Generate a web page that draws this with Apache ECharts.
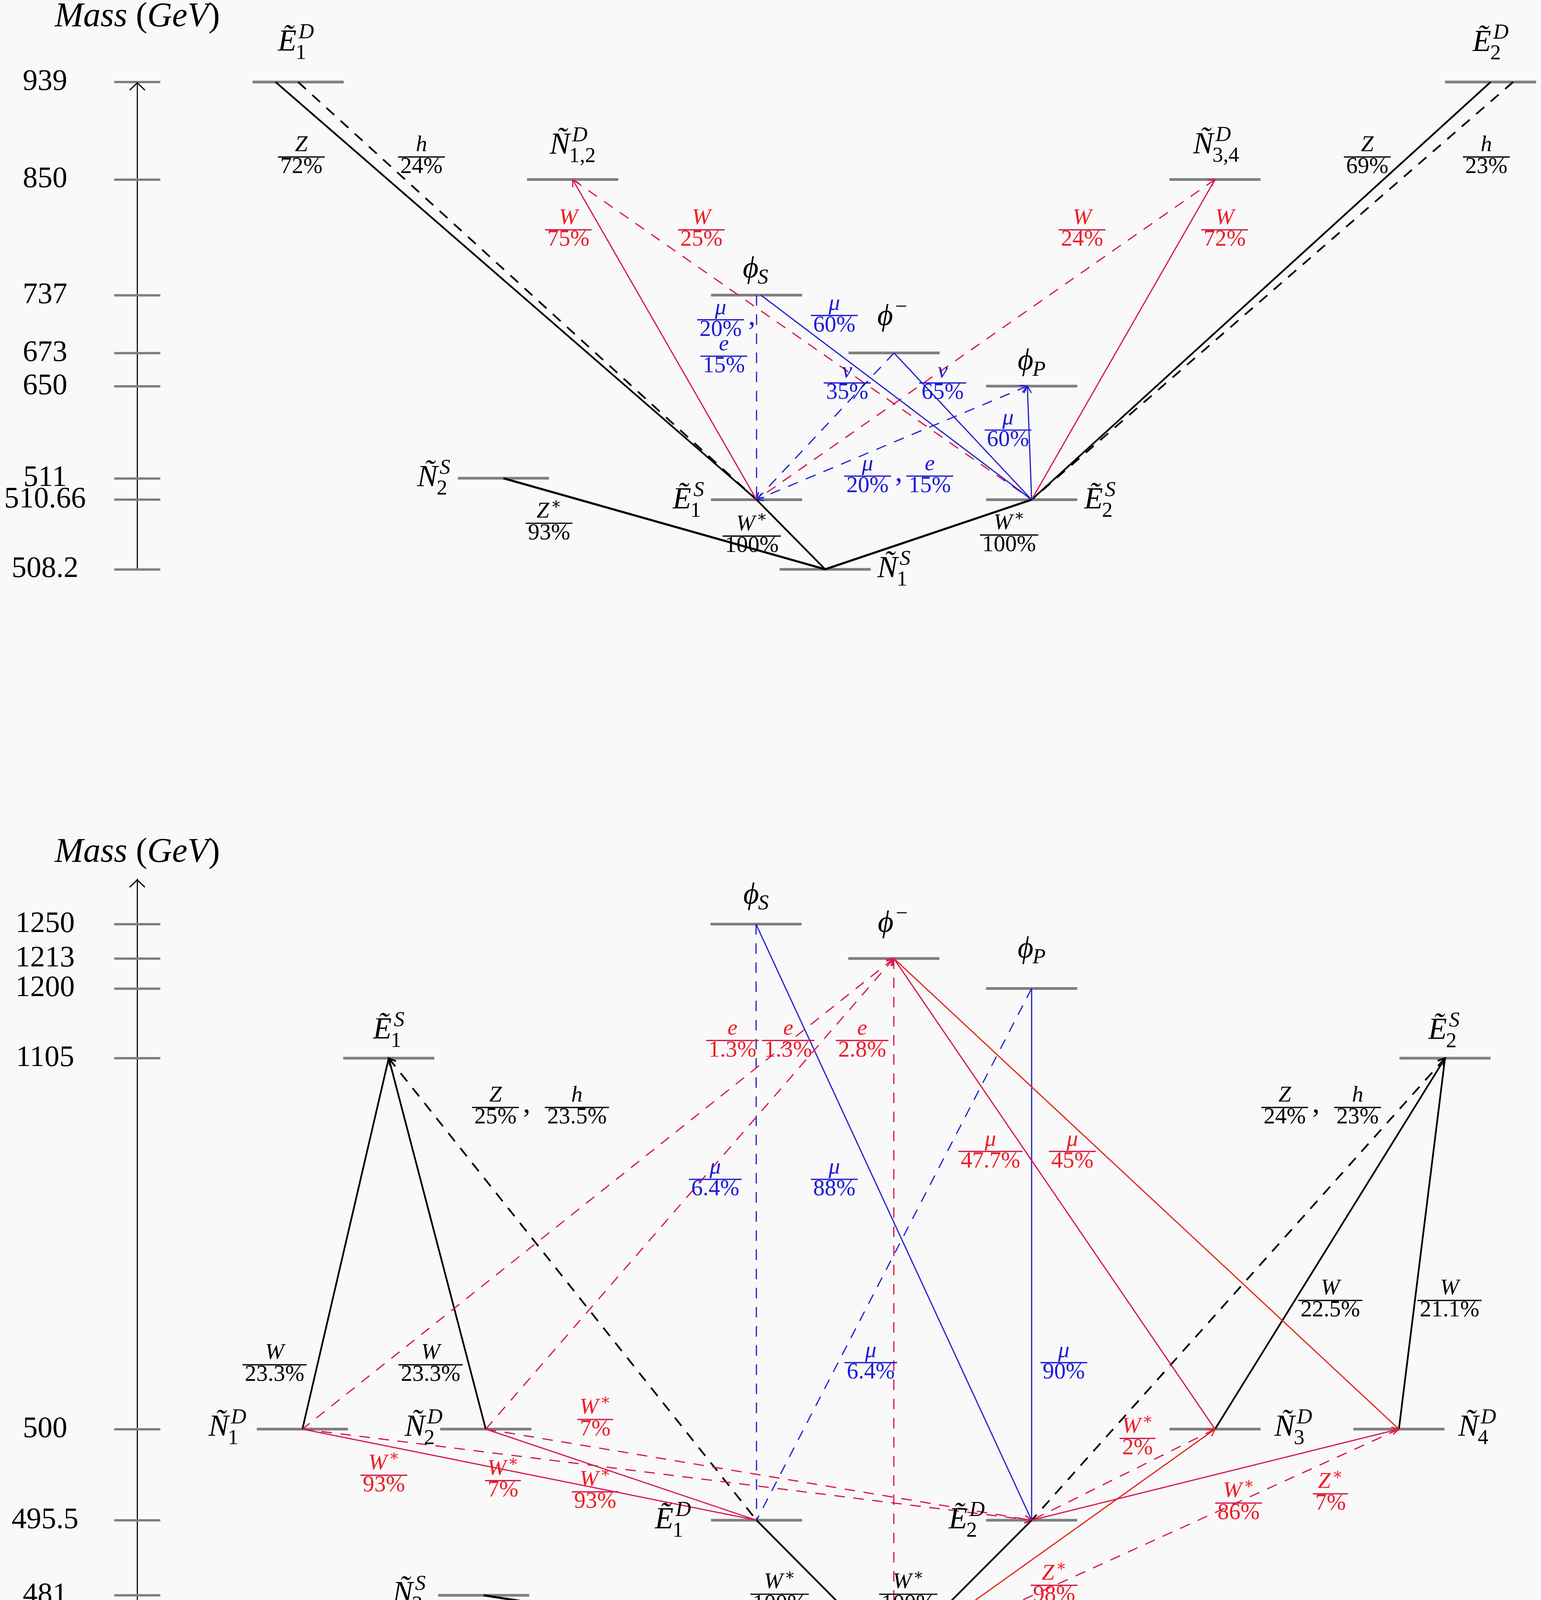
<!DOCTYPE html>
<html><head><meta charset="utf-8">
<script src="https://cdn.jsdelivr.net/npm/echarts@6/dist/echarts.min.js"></script>
<style>html,body{margin:0;padding:0;background:#f9f9f9}#c{width:3944px;height:4303px}</style>
</head><body><div id="c"></div><script>
// ===================== DATA =====================
const topTickMasses = [939, 850, 737, 673, 650, 511, 510.66, 508.2];
const topTickLabels = ['939', '850', '737', '673', '650', '511', '510.66', '508.2'];
const bottomTickMasses = [1250, 1213, 1200, 1105, 500, 495.5, 481, 479.75];
const bottomTickLabels = ['1250', '1213', '1200', '1105', '500', '495.5', '481', '479.75'];

const topStates = ['E1D', 'E2D', 'N12D', 'N34D', 'phiS', 'phiM', 'phiP', 'N2S', 'E1S', 'E2S', 'N1S'];
const topStateNames = ['Ẽ_1^D', 'Ẽ_2^D', 'Ñ_{1,2}^D', 'Ñ_{3,4}^D', 'ϕ_S', 'ϕ^−', 'ϕ_P', 'Ñ_2^S', 'Ẽ_1^S', 'Ẽ_2^S', 'Ñ_1^S'];
const topStateMasses = [939, 939, 850, 850, 737, 673, 650, 511, 510.66, 510.66, 508.2];

const topDecayFrom = ['E1D', 'E1D', 'E2D', 'E2D', 'N12D', 'N12D', 'N34D', 'N34D', 'phiS', 'phiS', 'phiM', 'phiM', 'phiP', 'phiP', 'N2S', 'E1S', 'E2S'];
const topDecayTo = ['E1S', 'E1S', 'E2S', 'E2S', 'E1S', 'E2S', 'E2S', 'E1S', 'E1S', 'E2S', 'E1S', 'E2S', 'E1S', 'E2S', 'N1S', 'N1S', 'N1S'];
const topDecayChannels = [['Z'], ['h'], ['Z'], ['h'], ['W'], ['W'], ['W'], ['W'], ['μ', 'e'], ['μ'], ['ν'], ['ν'], ['μ', 'e'], ['μ'], ['Z*'], ['W*'], ['W*']];
const topDecayBR = [[72], [24], [69], [23], [75], [25], [72], [24], [20, 15], [60], [35], [65], [20, 15], [60], [93], [100], [100]];

const bottomStates = ['phiS', 'phiM', 'phiP', 'E1S', 'E2S', 'N1D', 'N2D', 'N3D', 'N4D', 'E1D', 'E2D', 'N2S', 'N1S'];
const bottomStateNames = ['ϕ_S', 'ϕ^−', 'ϕ_P', 'Ẽ_1^S', 'Ẽ_2^S', 'Ñ_1^D', 'Ñ_2^D', 'Ñ_3^D', 'Ñ_4^D', 'Ẽ_1^D', 'Ẽ_2^D', 'Ñ_2^S', 'Ñ_1^S'];
const bottomStateMasses = [1250, 1213, 1200, 1105, 1105, 500, 500, 500, 500, 495.5, 495.5, 481, 479.16];

const bottomDecayFrom = ['E1S', 'E1S', 'E1S', 'E2S', 'E2S', 'E2S', 'phiS', 'phiS', 'phiP', 'phiP', 'phiM', 'phiM', 'phiM', 'phiM', 'phiM', 'N1D', 'N1D', 'N2D', 'N2D', 'N3D', 'N3D', 'N4D', 'N4D', 'E1D', 'E2D', 'N2S'];
const bottomDecayTo = ['N1D', 'N2D', 'E1D', 'N3D', 'N4D', 'E2D', 'E1D', 'E2D', 'E2D', 'E1D', 'N1D', 'N2D', 'N1S', 'N3D', 'N4D', 'E1D', 'E2D', 'E1D', 'E2D', 'N1S', 'E2D', 'E2D', 'N1S', 'N1S', 'N1S', 'N1S'];
const bottomDecayChannels = [['W'], ['W'], ['Z', 'h'], ['W'], ['W'], ['Z', 'h'], ['μ'], ['μ'], ['μ'], ['μ'], ['e'], ['e'], ['e'], ['μ'], ['μ'], ['W*'], ['W*'], ['W*'], ['W*'], ['Z*'], ['W*'], ['W*'], ['Z*'], ['W*'], ['W*'], ['Z*']];
const bottomDecayBR = [[23.3], [23.3], [25, 23.5], [22.5], [21.1], [24, 23], [6.4], [88], [90], [6.4], [1.3], [1.3], [2.8], [47.7], [45], [93], [7], [93], [7], [98], [2], [86], [7], [100], [100], [100]];

const axisTitle = ['Mass', '(', 'GeV', ')'];

// ===================== LAYOUT / STYLE =====================
const S = 3944 / 1437;          // layout unit -> px
const H0 = 4303 / S;
const FONT = '"Liberation Serif", "DejaVu Serif", serif';
const GRAY = '#808080';
const LINECOL = { k: '#000000', r: '#d8174a', o: '#e4261c', b: '#2323cc' };
const TEXTCOL = { k: '#000000', r: '#ee1c25', o: '#ee1c25', b: '#1b1bd6' };
const BARCOL = { k: '#000000', r: '#d41648', o: '#d41648', b: '#1b1bd6' };
const NAME_FS = 78, NUM_FS = 58, DEN_FS = 59, TICK_FS = 76, TITLE_FS = 88;

const panels = [
  {
    ticks: topTickMasses, tickLabels: topTickLabels,
    tickY: [76, 167, 275, 329, 360, 446, 466, 531], axisTop: 76, axisBottom: 531, nameGap: 166,
    states: topStates, names: topStateNames, masses: topStateMasses,
    levelX: [278, 1390, 534, 1133, 705.5, 833.7, 962, 469.5, 705.5, 962, 769.5],
    nameOff: [[-2, -27.3], [0, -27], [0, -22], [1, -22.5], [-1, -14.4], [-1.7, -24], [0, -13.5], [-65, 9.3], [-63.6, 10], [63.7, 10], [64, 9.4]],
    from: topDecayFrom, to: topDecayTo, ch: topDecayChannels, br: topDecayBR,
    style: [['k', 0], ['k', 1], ['k', 0], ['k', 1], ['r', 0], ['r', 1], ['r', 0], ['r', 1], ['b', 1], ['b', 0], ['b', 1], ['b', 0], ['b', 1], ['b', 0], ['k', 0, 5.4], ['k', 0], ['k', 0, 5.4]],
    fromDx: { 0: -21, 3: 21, 9: 4, 12: -4, 13: -4 },
    labelPos: [[[281, 146]], [[393, 146]], [[1275, 146]], [[1386, 146]], [[530, 214]], [[654, 214]], [[1142, 214]], [[1009, 214]],
      [[672, 298], [675, 332]], [[778, 294]], [[790, 357]], [[879, 357]], [[809, 444], [867, 444]], [[940, 401]], [[512, 488]], [[701, 500]], [[941, 499]]],
    arrows: [[4, 'from'], [7, 'from'], [10, 'to'], [12, 'to'], [12, 'from'], [13, 'from']]
  },
  {
    ticks: bottomTickMasses, tickLabels: bottomTickLabels,
    tickY: [862, 894, 922, 987, 1333, 1418, 1488, 1528], axisTop: 820, axisBottom: 1528, nameGap: 68,
    states: bottomStates, names: bottomStateNames, masses: bottomStateMasses,
    levelX: [705, 833.5, 962, 362.5, 1347.5, 282, 453, 1133, 1304.5, 705.5, 962, 451, 833.5],
    nameOff: [[0, -17.3], [-1, -23], [0, -27], [0, -16.4], [-1, -16.2], [-70, 8], [-58, 8], [73, 8], [73, 8], [-78, 9.4], [-60.5, 9.4], [-69.5, 8.4], [85, 11]],
    from: bottomDecayFrom, to: bottomDecayTo, ch: bottomDecayChannels, br: bottomDecayBR,
    style: [['k', 0], ['k', 0], ['k', 1], ['k', 0], ['k', 0], ['k', 1], ['b', 1], ['b', 0], ['b', 0], ['b', 1], ['r', 1], ['r', 1], ['r', 1], ['r', 0], ['o', 0],
      ['r', 0], ['r', 1], ['r', 0], ['r', 1], ['o', 0], ['r', 1], ['r', 0], ['r', 1], ['k', 0], ['k', 0], ['k', 0, 5.4]],
    fromDx: {},
    labelPos: [[[256, 1273]], [[401.5, 1273]], [[462, 1033], [538, 1033]], [[1240.5, 1213]], [[1351.7, 1213]], [[1198, 1033], [1266, 1033]],
      [[667, 1100]], [[778, 1100]], [[992, 1271]], [[812, 1271]], [[683, 970.5]], [[735, 970.5]], [[804, 970.5]], [[923.6, 1074]], [[1000, 1074]],
      [[358, 1376]], [[469, 1381]], [[555, 1391.5]], [[555, 1324]], [[983, 1478.7]], [[1060.7, 1341.7]], [[1155, 1402]], [[1240.7, 1393.3]],
      [[727, 1487]], [[847, 1487]], [[598, 1538]]],
    arrows: [[2, 'from'], [5, 'from'], [10, 'from'], [11, 'from'], [16, 'to'], [18, 'to'], [21, 'from'], [19, 'from'], [22, 'to']]
  }
];

// ===================== helpers =====================
function massToY(p, m) {
  const M = p.ticks, Y = p.tickY, n = M.length;
  for (let i = 0; i < n - 1; i++) {
    if (m <= M[i] && m >= M[i + 1]) return Y[i] + (m - M[i]) / (M[i + 1] - M[i]) * (Y[i + 1] - Y[i]);
  }
  if (m < M[n - 1]) return Y[n - 2] + (m - M[n - 2]) / (M[n - 1] - M[n - 2]) * (Y[n - 1] - Y[n - 2]);
  return Y[0] + (m - M[0]) / (M[1] - M[0]) * (Y[1] - Y[0]);
}
const yToV = y => H0 - y;

const mctx = document.createElement('canvas').getContext('2d');
function isIt(ch) { return /[A-Za-z\u00C0-\u024F\u1E00-\u1EFF\u0370-\u03FF]/.test(ch); }
function fstr(size, it) { return (it ? 'italic ' : '') + size + 'px ' + FONT; }
function mw(t, size, it) { mctx.font = fstr(size, it); return mctx.measureText(t).width; }
function runs(str) {
  const out = [];
  for (const ch of str) {
    const it = isIt(ch);
    if (out.length && out[out.length - 1].it === it) out[out.length - 1].t += ch; else out.push({ t: ch, it });
  }
  return out;
}
function parseMath(src) {
  const atoms = []; let i = 0;
  const grp = () => {
    if (src[i] === '{') { const j = src.indexOf('}', i); const g = src.slice(i + 1, j); i = j + 1; return g; }
    const ch = src[i]; i += 1; return ch;
  };
  while (i < src.length) {
    const c = src[i];
    if (c === '_') { i++; atoms[atoms.length - 1].sub = grp(); }
    else if (c === '^') { i++; atoms[atoms.length - 1].sup = grp(); }
    else atoms.push({ base: grp() });
  }
  return atoms;
}
function layoutMath(src, size) {
  const atoms = parseMath(src); const items = []; let x = 0; const ss = size * 0.7;
  for (const a of atoms) {
    let bx = x; const br = runs(a.base); const baseIt = br.some(r => r.it);
    for (const r of br) { items.push({ t: r.t, x: bx, dy: 0, size, it: r.it }); bx += mw(r.t, size, r.it); }
    let end = bx;
    if (a.sup != null) {
      const up = a.sub != null ? 0.42 : 0.40;
      let sx = bx + (baseIt ? 0.07 * size : 0.02 * size);
      for (const r of runs(a.sup)) { items.push({ t: r.t, x: sx, dy: -up * size, size: ss, it: r.it }); sx += mw(r.t, ss, r.it); }
      end = Math.max(end, sx);
    }
    if (a.sub != null) {
      const dn = a.sup != null ? 0.26 : 0.18;
      let sx = bx - (baseIt ? 0.03 * size : 0);
      for (const r of runs(a.sub)) { items.push({ t: r.t, x: sx, dy: dn * size, size: ss, it: r.it }); sx += mw(r.t, ss, r.it); }
      end = Math.max(end, sx);
    }
    x = end;
  }
  return { w: x, items };
}
function mathEls(lay, x0, baseline, color) {
  return lay.items.map(it => ({
    type: 'text',
    style: {
      text: it.t, x: x0 + it.x, y: baseline + it.dy - 0.3375 * it.size,
      fill: color, fontSize: it.size, fontFamily: FONT, fontStyle: it.it ? 'italic' : 'normal',
      align: 'left', verticalAlign: 'middle'
    }
  }));
}
function fracEls(out, cx, barY, num, den, tc, bc) {
  const n = layoutMath(num, NUM_FS), d = layoutMath(den, DEN_FS);
  const w = Math.max(n.w, d.w) + 0.2 * DEN_FS;
  out.push(...mathEls(n, cx - n.w / 2, barY - 0.18 * NUM_FS, tc));
  out.push(...mathEls(d, cx - d.w / 2, barY + 0.77 * DEN_FS, tc));
  out.push({ type: 'line', shape: { x1: cx - w / 2, y1: barY, x2: cx + w / 2, y2: barY }, style: { stroke: bc, lineWidth: 3.2 } });
  return cx + w / 2;
}
function chevron(P, Q, col, lw) {
  const dx = P[0] - Q[0], dy = P[1] - Q[1], L = Math.hypot(dx, dy);
  const ux = dx / L, uy = dy / L, len = 20, ang = 0.5;
  const pts = [-ang, ang].map(a => {
    const c = Math.cos(a), s = Math.sin(a);
    const rx = ux * c - uy * s, ry = ux * s + uy * c;
    return [P[0] - rx * len, P[1] - ry * len];
  });
  return { type: 'polyline', shape: { points: [pts[0], P, pts[1]] }, style: { stroke: col, lineWidth: lw, fill: 'none' } };
}
const chanTeX = c => c.replace('*', '^∗');

// ===================== series =====================
function makeSeries(p, gi) {
  const yi = gi * 2;
  const idx = s => p.states.indexOf(s);
  const lv = p.masses.map(m => yToV(massToY(p, m)));
  const half = 42.5;
  const base = { type: 'custom', coordinateSystem: 'cartesian2d', xAxisIndex: gi, yAxisIndex: yi, silent: true, clip: false, animation: false };
  const list = [];
  // energy levels
  list.push(Object.assign({}, base, {
    z: 2, data: p.states.map((s, i) => [p.levelX[i], lv[i]]),
    renderItem: (params, api) => {
      const a = api.coord([api.value(0) - half, api.value(1)]), b = api.coord([api.value(0) + half, api.value(1)]);
      return { type: 'line', shape: { x1: a[0], y1: a[1], x2: b[0], y2: b[1] }, style: { stroke: GRAY, lineWidth: 7 } };
    }
  }));
  // decay lines
  list.push(Object.assign({}, base, {
    z: 3, data: p.from.map((f, i) => { const a = idx(f), b = idx(p.to[i]); return [p.levelX[a] + (p.fromDx[i] || 0), lv[a], p.levelX[b], lv[b]]; }),
    renderItem: (params, api) => {
      const i = params.dataIndex, st = p.style[i];
      const A = api.coord([api.value(0), api.value(1)]), B = api.coord([api.value(2), api.value(3)]);
      const col = LINECOL[st[0]], lw = st[2] || (st[0] === 'k' ? 4.4 : 3.1);
      const style = { stroke: col, lineWidth: lw };
      if (st[1]) style.lineDash = [27, 22];
      const children = [{ type: 'line', shape: { x1: A[0], y1: A[1], x2: B[0], y2: B[1] }, style }];
      for (const ar of p.arrows) if (ar[0] === i) {
        children.push(ar[1] === 'from' ? chevron(A, B, col, lw) : chevron(B, A, col, lw));
      }
      return { type: 'group', children };
    }
  }));
  // branching-ratio fractions
  list.push(Object.assign({}, base, {
    z: 5, data: p.labelPos.map(l => [l[0][0], yToV(l[0][1])]),
    renderItem: (params, api) => {
      const i = params.dataIndex, key = p.style[i][0];
      const tc = TEXTCOL[key], bc = BARCOL[key];
      const children = []; let firstRight = 0, firstBar = 0;
      p.ch[i].forEach((c, k) => {
        const pos = p.labelPos[i][k];
        const pt = api.coord([pos[0], yToV(pos[1])]);
        const r = fracEls(children, pt[0], pt[1], chanTeX(c), p.br[i][k] + '%', tc, bc);
        if (k === 0) { firstRight = r; firstBar = pt[1]; }
      });
      if (p.ch[i].length > 1) {
        children.push({ type: 'text', style: { text: ',', x: firstRight + 20, y: firstBar + 19 - 0.3375 * 76, fill: tc, fontSize: 76, fontFamily: FONT, align: 'center', verticalAlign: 'middle' } });
      }
      return { type: 'group', children };
    }
  }));
  // state names
  list.push(Object.assign({}, base, {
    z: 5, data: p.states.map((s, i) => [p.levelX[i], lv[i]]),
    renderItem: (params, api) => {
      const i = params.dataIndex;
      const pt = api.coord([api.value(0), api.value(1)]);
      const cx = pt[0] + p.nameOff[i][0] * S, by = pt[1] + p.nameOff[i][1] * S;
      const lay = layoutMath(p.names[i], NAME_FS);
      return { type: 'group', children: mathEls(lay, cx - lay.w / 2, by, '#000') };
    }
  }));
  return list;
}

const ARROW = 'path://M20,0 L40,19 L38,21.5 L20,4 L2,21.5 L0,19 Z';
const gridW = 3944 - 128 * S;
const yAxes = [];
panels.forEach((p, gi) => {
  const tv = p.tickY.map(yToV);
  const vmin = yToV(p.axisBottom), vmax = yToV(p.axisTop);
  yAxes.push({
    gridIndex: gi, type: 'value', position: 'left', min: vmin, max: vmax,
    splitLine: { show: false },
    axisLine: { show: true, onZero: false, lineStyle: { color: '#000', width: 2.8 }, symbol: ['none', ARROW], symbolSize: [44, 22], symbolOffset: [0, -11] },
    axisTick: { show: true, inside: false, length: 59, customValues: tv, lineStyle: { color: GRAY, width: 6 } },
    axisLabel: {
      show: true, customValues: tv, margin: 236, align: 'center', verticalAlign: 'middle',
      fontFamily: FONT, fontSize: TICK_FS, color: '#000', hideOverlap: false,
      formatter: v => { const k = tv.findIndex(t => Math.abs(t - v) < 1e-3); return k >= 0 ? p.tickLabels[k] : ''; }
    },
    name: '{i|' + axisTitle[0] + '} {r|' + axisTitle[1] + '}{i|' + axisTitle[2] + '}{r|' + axisTitle[3] + '}',
    nameLocation: 'end', nameGap: p.nameGap,
    nameTextStyle: {
      align: 'center', verticalAlign: 'middle', fontFamily: FONT, fontSize: TITLE_FS, color: '#000',
      rich: { i: { fontFamily: FONT, fontStyle: 'italic', fontSize: TITLE_FS, color: '#000' }, r: { fontFamily: FONT, fontSize: TITLE_FS, color: '#000' } }
    }
  });
  // second axis on the same line: draws the right-hand half of each tick
  yAxes.push({
    gridIndex: gi, type: 'value', position: 'right', offset: -gridW, min: vmin, max: vmax,
    splitLine: { show: false }, axisLine: { show: false }, axisLabel: { show: false },
    axisTick: { show: true, inside: false, length: 59, customValues: tv, lineStyle: { color: GRAY, width: 6 } }
  });
});

const option = {
  backgroundColor: '#f9f9f9',
  animation: false,
  grid: panels.map(p => ({ left: 128 * S, right: 0, top: p.axisTop * S, height: (p.axisBottom - p.axisTop) * S, containLabel: false })),
  xAxis: panels.map((p, gi) => ({ gridIndex: gi, type: 'value', min: 128, max: 1437, show: false })),
  yAxis: yAxes,
  series: panels.flatMap((p, gi) => makeSeries(p, gi))
};
const chart = echarts.init(document.getElementById('c'), null, { renderer: 'canvas' });
chart.setOption(option);
</script></body></html>
